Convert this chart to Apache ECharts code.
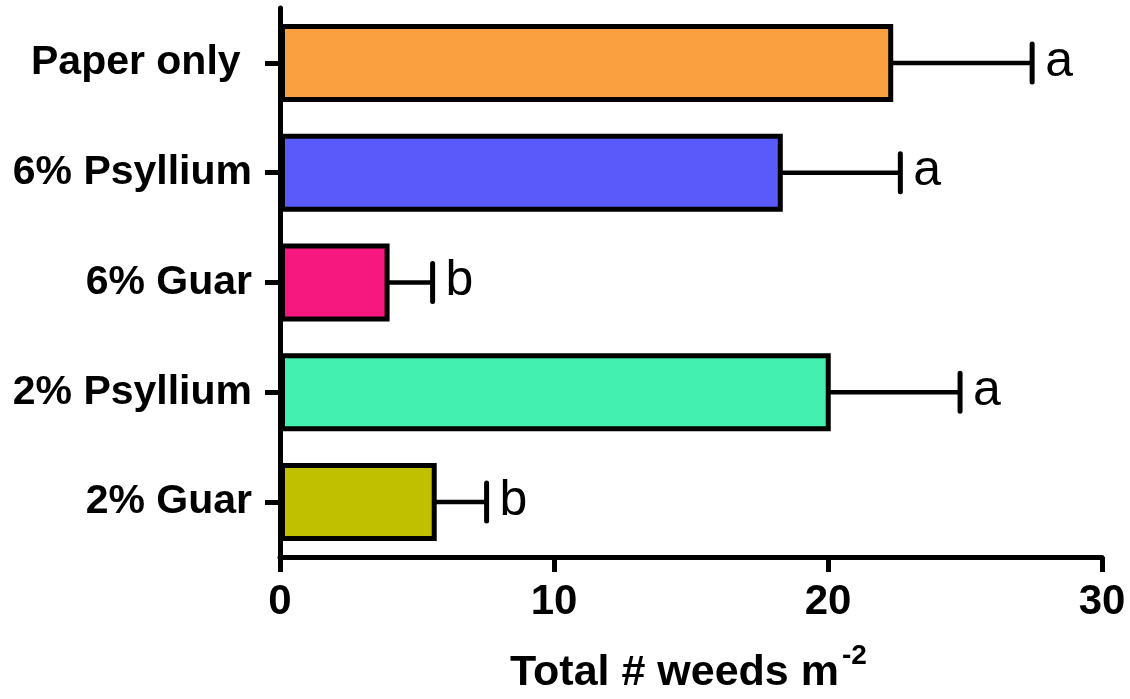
<!DOCTYPE html>
<html>
<head>
<meta charset="utf-8">
<script src="https://cdn.jsdelivr.net/npm/echarts@6/dist/echarts.min.js"></script>
<style>
  html, body { margin: 0; padding: 0; background: #fff; }
  #chart { width: 1130px; height: 699px; }
</style>
</head>
<body>
<div id="chart"></div>
<script>
// Treatments, listed top to bottom
const categories = ['Paper only ', '6% Psyllium', '6% Guar', '2% Psyllium', '2% Guar'];
// Mean weed counts per square metre
const means = [22.38, 18.35, 4.0, 20.1, 5.72];
// Standard error of each mean
const errors = [5.07, 4.29, 1.57, 4.72, 1.82];
// Significance groupings
const letters = ['a', 'a', 'b', 'a', 'b'];
// Bar fill colours
const colors = ['#FBA040', '#5A5AFA', '#F7187F', '#43F0B0', '#C0C000'];
// Value axis ticks
const xTicks = { min: 0, max: 30, interval: 10 };

const FONT = '"Liberation Sans", Arial, Helvetica, sans-serif';

const chart = echarts.init(document.getElementById('chart'), null, { renderer: 'canvas' });

const errorData = means.map((m, i) => [m, m + errors[i], i]);

chart.setOption({
  backgroundColor: '#ffffff',
  animation: false,
  grid: { left: 280, right: 28, top: 8, bottom: 142, containLabel: false },
  xAxis: {
    type: 'value',
    min: xTicks.min,
    max: xTicks.max,
    interval: xTicks.interval,
    axisLine: { show: true, lineStyle: { color: '#000', width: 5 } },
    axisTick: { show: true, length: 15, lineStyle: { color: '#000', width: 5 } },
    axisLabel: { color: '#000', fontSize: 42, fontWeight: 'bold', fontFamily: FONT, margin: 24 },
    splitLine: { show: false }
  },
  yAxis: {
    type: 'category',
    data: categories,
    inverse: true,
    axisLine: { show: true, lineStyle: { color: '#000', width: 5 } },
    axisTick: { show: true, alignWithLabel: true, length: 15, lineStyle: { color: '#000', width: 5 } },
    axisLabel: { color: '#000', fontSize: 41, fontWeight: 'bold', fontFamily: FONT, margin: 28 },
    splitLine: { show: false }
  },
  graphic: [
    {
      type: 'text', x: 510, y: 673,
      style: { text: 'Total # weeds m', fill: '#000', fontSize: 43, fontWeight: 'bold',
               fontFamily: FONT, align: 'left', verticalAlign: 'middle' }
    },
    {
      type: 'text', x: 842, y: 656,
      style: { text: '-2', fill: '#000', fontSize: 28, fontWeight: 'bold',
               fontFamily: FONT, align: 'left', verticalAlign: 'middle' }
    }
  ],
  series: [
    {
      type: 'custom',
      z: 1,
      encode: { x: [0, 1], y: 2 },
      data: errorData,
      renderItem: function (params, api) {
        const cat = api.value(2);
        const p0 = api.coord([api.value(0), cat]);
        const p1 = api.coord([api.value(1), cat]);
        const capH = 38;
        return {
          type: 'group',
          children: [
            { type: 'line', shape: { x1: p0[0] - 3, y1: p0[1], x2: p1[0], y2: p1[1] },
              style: { stroke: '#000', lineWidth: 4.5 } },
            { type: 'line', shape: { x1: p1[0], y1: p1[1] - capH / 2, x2: p1[0], y2: p1[1] + capH / 2 },
              style: { stroke: '#000', lineWidth: 5, lineCap: 'round' } },
            { type: 'text', x: p1[0] + 13, y: p1[1] - 1,
              style: { text: letters[params.dataIndex], fill: '#000', fontSize: 50,
                       fontFamily: FONT, align: 'left', verticalAlign: 'middle' } }
          ]
        };
      }
    },
    {
      type: 'bar',
      z: 2,
      barWidth: 78,
      data: means.map((v, i) => ({
        value: v,
        itemStyle: { color: colors[i], borderColor: '#000', borderWidth: 5 }
      }))
    }
  ]
});
</script>
</body>
</html>
